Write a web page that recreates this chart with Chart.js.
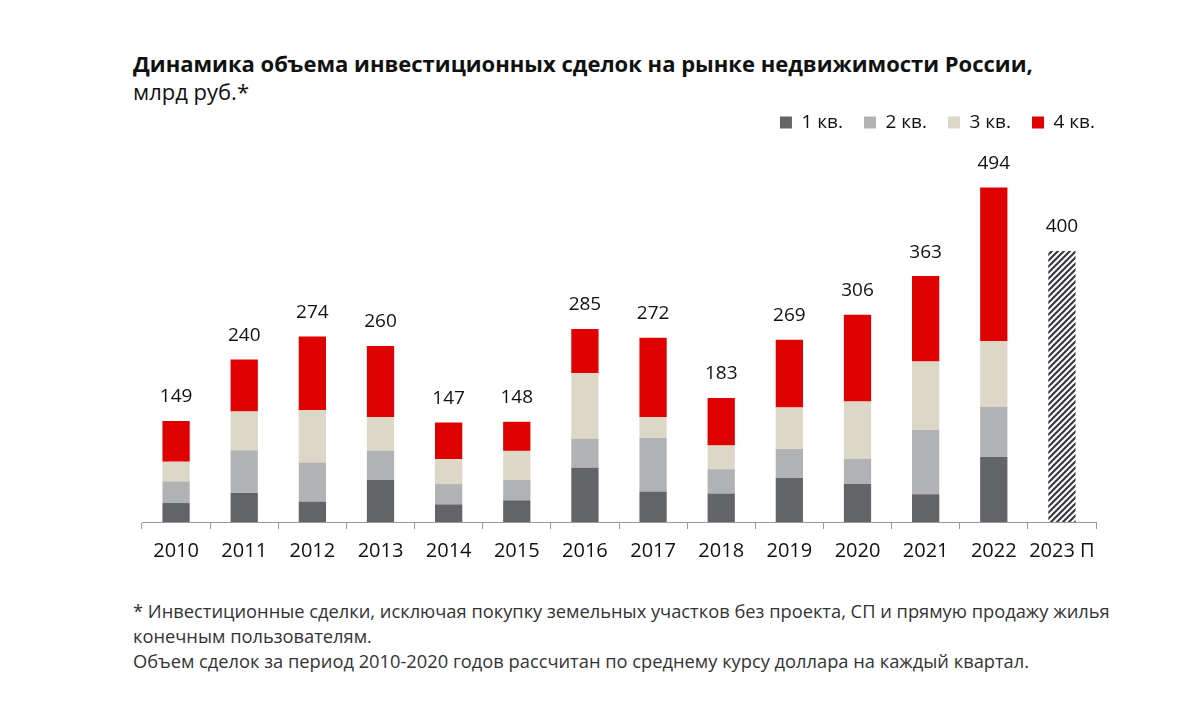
<!DOCTYPE html>
<html>

<head>
	<meta charset="utf-8">
	<title>Инвестиционные сделки</title>
	<script src="https://cdn.jsdelivr.net/npm/chart.js@4"></script>
	<style>
		body {
			margin: 0;
			background: #fff;
			font-family: "Open Sans", sans-serif;
			color: #111;
		}

		.page {
			position: relative;
			width: 1200px;
			height: 716px;
		}

		.title {
			position: absolute;
			left: 133px;
			top: 49px;
			font-size: 22px;
			line-height: 28px;
		}

		.title b {
			font-weight: 700;
		}

		.chart-box {
			position: absolute;
			left: 0;
			top: 91px;
			width: 1200px;
			height: 489px;
		}

		.note {
			position: absolute;
			left: 133px;
			top: 598px;
			font-size: 18.3px;
			line-height: 25px;
			color: #333;
		}
	</style>
</head>

<body>
	<div class="page">
		<div class="title"><b>Динамика объема инвестиционных сделок на рынке недвижимости России,</b><br>млрд руб.*</div>
		<div class="chart-box">
			<canvas id="myChart"></canvas>
		</div>
		<div class="note">* Инвестиционные сделки, исключая покупку земельных участков без проекта, СП и прямую продажу жилья<br>конечным пользователям.<br>Объем сделок за период 2010-2020 годов рассчитан по среднему курсу доллара на каждый квартал.</div>
	</div>

	<script>
		// values, bn RUB
		const years = ['2010', '2011', '2012', '2013', '2014', '2015', '2016', '2017', '2018', '2019', '2020', '2021', '2022', '2023 П'];
		const q1 = [28, 43, 30, 62, 26, 32, 80, 45, 42, 65, 56, 41, 96, null];
		const q2 = [32, 63, 58, 43, 30, 30, 43, 79, 36, 43, 37, 95, 74, null];
		const q3 = [29, 57, 77, 50, 37, 43, 97, 31, 35, 61, 85, 101, 97, null];
		const q4 = [60, 77, 109, 105, 54, 43, 65, 117, 70, 100, 128, 126, 227, null];
		const forecast = [null, null, null, null, null, null, null, null, null, null, null, null, null, 400];
		const totals = [149, 240, 274, 260, 147, 148, 285, 272, 183, 269, 306, 363, 494, 400];

		function makeHatch() {
			var c = document.createElement('canvas');
			var s = 6;
			c.width = s;
			c.height = s;
			var g = c.getContext('2d');
			g.fillStyle = '#fff';
			g.fillRect(0, 0, s, s);
			g.strokeStyle = '#3a3b3f';
			g.lineWidth = 2.2;
			g.beginPath();
			g.moveTo(-1, s + 1); g.lineTo(s + 1, -1);
			g.moveTo(-1, 1); g.lineTo(1, -1);
			g.moveTo(s - 1, s + 1); g.lineTo(s + 1, s - 1);
			g.stroke();
			return g.createPattern(c, 'repeat');
		}

		// totals over the bars
		const totalLabels = {
			id: 'totalLabels',
			afterDatasetsDraw(chart) {
				const ctx = chart.ctx;
				const xs = chart.scales.x;
				const ys = chart.scales.y;
				ctx.save();
				ctx.font = '19px "Open Sans"';
				ctx.fillStyle = '#111';
				ctx.textAlign = 'center';
				ctx.textBaseline = 'middle';
				for (let i = 0; i < totals.length; i++) {
					ctx.fillText(String(totals[i]), xs.getPixelForValue(i), ys.getPixelForValue(totals[i]) - 24);
				}
				ctx.restore();
			}
		};

		// push the legend a bit to the right, up to the axis end
		const legendShift = {
			id: 'legendShift',
			afterLayout(chart) {
				if (chart.legend) {
					chart.legend.left += 20;
					chart.legend.right += 20;
				}
			}
		};

		Chart.defaults.font.family = '"Open Sans", sans-serif';
		Chart.defaults.color = '#111';

		const ctx = document.getElementById('myChart');
		const chart = new Chart(ctx, {
			type: 'bar',
			data: {
				labels: years,
				datasets: [
					{ label: '1 кв.', data: q1, backgroundColor: '#636468' },
					{ label: '2 кв.', data: q2, backgroundColor: '#b1b2b4' },
					{ label: '3 кв.', data: q3, backgroundColor: '#dcd7c6' },
					{ label: '4 кв.', data: q4, backgroundColor: '#df0000' },
					{ label: 'прогноз', data: forecast, backgroundColor: makeHatch() }
				]
			},
			options: {
				responsive: true,
				maintainAspectRatio: false,
				animation: false,
				datasets: {
					bar: {
						barPercentage: 0.4,
						categoryPercentage: 1.0,
						borderWidth: 0
					}
				},
				layout: {
					padding: { left: 142, right: 104, top: 1, bottom: 7 }
				},
				plugins: {
					legend: {
						position: 'top',
						align: 'end',
						labels: {
							boxWidth: 12,
							boxHeight: 12,
							padding: 21,
							font: { size: 19 },
							filter: (item) => item.datasetIndex < 4
						}
					},
					tooltip: { enabled: false }
				},
				scales: {
					x: {
						stacked: true,
						border: { color: '#9a9a9a', width: 1 },
						grid: {
							offset: true,
							drawOnChartArea: false,
							drawTicks: true,
							tickLength: 7,
							color: '#9a9a9a'
						},
						ticks: {
							padding: 10,
							maxRotation: 0,
							autoSkip: false,
							font: { size: 20 },
							color: '#111'
						}
					},
					y: {
						stacked: true,
						display: false,
						min: 0,
						max: 561
					}
				}
			},
			plugins: [totalLabels, legendShift]
		});
	</script>
</body>

</html>
